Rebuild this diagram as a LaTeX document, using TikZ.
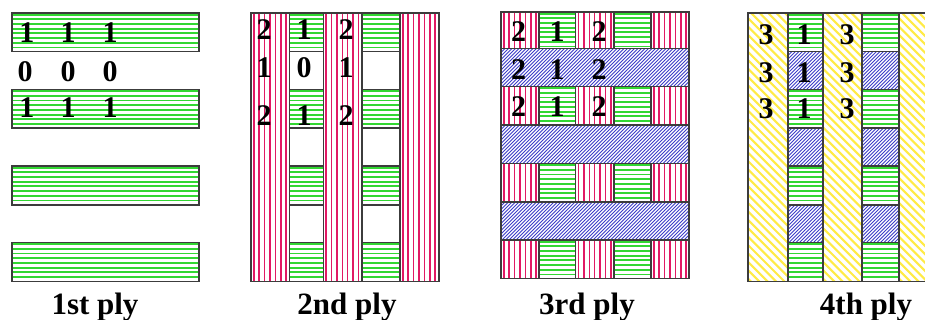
\documentclass[tikz,border=0pt]{standalone}
\usepackage{fontspec}
\setmainfont{Liberation Serif}
\definecolor{grn}{RGB}{50,215,50}
\definecolor{rd}{RGB}{225,25,100}
\definecolor{bl}{RGB}{60,60,200}
\definecolor{yl}{RGB}{255,235,70}
\definecolor{bd}{RGB}{60,60,60}
\tikzset{
 cellborder/.style={draw=bd,line width=1.1pt},
 gline/.style={draw=grn,line width=1.9pt},
 rline/.style={draw=rd,line width=1.5pt},
 bline/.style={draw=bl,line width=0.75pt},
 yline/.style={draw=yl,line width=2.1pt},
 num/.style={font=\fontsize{30}{30}\selectfont\bfseries,anchor=base,inner sep=0pt},
 lab/.style={font=\fontsize{31}{31}\selectfont\bfseries,anchor=base,inner sep=0pt},
}
% cells: #1 left, #2 top, #3 right, #4 bottom
\newcommand\greencell[4]{%
 \begin{scope}\clip (#1,#2) rectangle (#3,#4);
 \foreach \k in {0,...,8} \draw[gline] (#1,{#2+1.6+4.7*\k}) -- (#3,{#2+1.6+4.7*\k});
 \end{scope}
 \draw[cellborder] (#1,#2) rectangle (#3,#4);}
\newcommand\redcell[4]{%
 \begin{scope}\clip (#1,#2) rectangle (#3,#4);
 \foreach \k in {0,...,7} \draw[rline] ({#1+2.8+5.4*\k},#2) -- ({#1+2.8+5.4*\k},#4);
 \end{scope}
 \draw[cellborder] (#1,#2) rectangle (#3,#4);}
\newcommand\bluecell[4]{%
 \begin{scope}\clip (#1,#2) rectangle (#3,#4);
 \foreach \k in {0,...,68} \draw[bline] ({#1-42+3.5*\k},{#4+1}) -- ++(42,-42);
 \end{scope}
 \draw[cellborder] (#1,#2) rectangle (#3,#4);}
\newcommand\yellowcell[4]{%
 \begin{scope}\clip (#1,#2) rectangle (#3,#4);
 \foreach \k in {0,...,44} \draw[yline] ({#1-275+8.4*\k},{#2-1}) -- ++(275,275);
 \end{scope}
 \draw[cellborder] (#1,#2) rectangle (#3,#4);}
\newcommand\whitecell[4]{\draw[cellborder,fill=white] (#1,#2) rectangle (#3,#4);}
\begin{document}
\begin{tikzpicture}[x=1pt,y=-1pt]
\useasboundingbox (0,0) rectangle (925,320);
\fill[white] (0,0) rectangle (925,320);
\begin{scope}
\clip (0,0) rectangle (925,320);
% ---------- 1st ply ----------
\foreach \a/\b in {13/51.5,89.5/128,166/205,242.5/281.5}
  {\greencell{12}{\a}{199}{\b}}
% ---------- 2nd ply ----------
\foreach \l/\r in {251/289.3,323.3/362,400/439}
  {\redcell{\l}{13}{\r}{281.5}}
\foreach \l/\r in {289.3/323.3,362/400}{
  \foreach \a/\b in {13/51.5,89.5/128,166/205,242.5/281.5}
    {\greencell{\l}{\a}{\r}{\b}}
  \foreach \a/\b in {51.5/89.5,128/166,205/242.5}
    {\whitecell{\l}{\a}{\r}{\b}}
}
% ---------- 3rd ply ----------
\foreach \a/\b in {12/48.5,86.5/125,163.5/202,240/278.5}{
  \foreach \l/\r in {501/539,575.7/614,651/689}
    {\redcell{\l}{\a}{\r}{\b}}
  \foreach \l/\r in {539/575.7,614/651}
    {\greencell{\l}{\a}{\r}{\b}}
}
\foreach \a/\b in {48.5/86.5,125/163.5,202/240}
  {\bluecell{501}{\a}{689}{\b}}
% ---------- 4th ply ----------
\foreach \l/\r in {748/788,823/862,899/950}
  {\yellowcell{\l}{13}{\r}{281.5}}
\foreach \l/\r in {788/823,862/899}{
  \foreach \a/\b in {13/51.5,89.5/128,166/205,242.5/281.5}
    {\greencell{\l}{\a}{\r}{\b}}
  \foreach \a/\b in {51.5/89.5,128/166,205/242.5}
    {\bluecell{\l}{\a}{\r}{\b}}
}
\end{scope}
% ---------- numbers ----------
\node[num] (p1a1) at (27,43) {1};
\node[num] (p1a2) at (68,43) {1};
\node[num] (p1a3) at (110,43) {1};
\node[num] (p1b1) at (25,82) {0};
\node[num] (p1b2) at (68,82) {0};
\node[num] (p1b3) at (110,82) {0};
\node[num] (p1c1) at (27,118) {1};
\node[num] (p1c2) at (68,118) {1};
\node[num] (p1c3) at (110,118) {1};
\node[num] (p2a1) at (264,40) {2};
\node[num] (p2a2) at (304,40) {1};
\node[num] (p2a3) at (346,40) {2};
\node[num] (p2b1) at (264,78) {1};
\node[num] (p2b2) at (304,78) {0};
\node[num] (p2b3) at (346,78) {1};
\node[num] (p2c1) at (264,126) {2};
\node[num] (p2c2) at (304,126) {1};
\node[num] (p2c3) at (346,126) {2};
\foreach \y/\n in {42/a,80/b,117/c}{
  \node[num] (p3\n1) at (518.5,\y) {2};
  \node[num] (p3\n2) at (557,\y) {1};
  \node[num] (p3\n3) at (599,\y) {2};
}
\foreach \y/\n in {45/a,83/b,119/c}{
  \node[num] (p4\n1) at (766,\y) {3};
  \node[num] (p4\n2) at (804,\y) {1};
  \node[num] (p4\n3) at (847,\y) {3};
}
% ---------- labels ----------
\node[lab] (l1) at (95,314) {1st ply};
\node[lab] (l2) at (347,314) {2nd ply};
\node[lab] (l3) at (587,314) {3rd ply};
\node[lab] (l4) at (866,314) {4th ply};
\end{tikzpicture}
\end{document}
